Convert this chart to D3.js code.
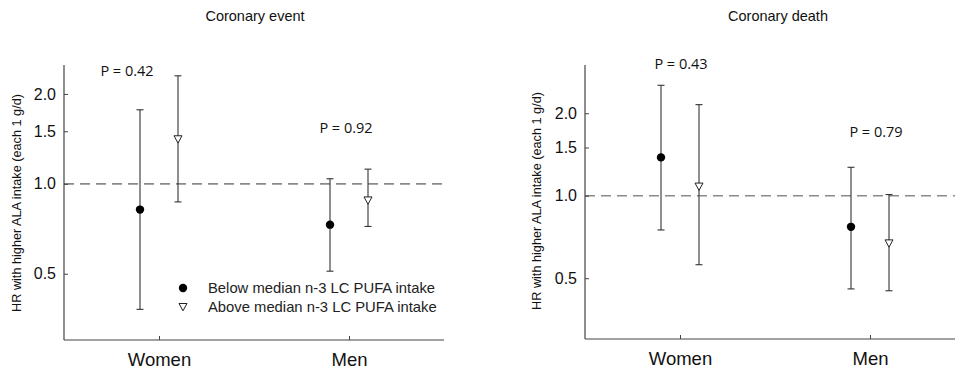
<!DOCTYPE html>
<html><head><meta charset="utf-8">
<script src="https://cdn.jsdelivr.net/npm/d3@7"></script>
<style>body{margin:0;background:#fff}svg{display:block}</style>
</head><body><svg id="c" width="955" height="374"></svg>
<script>
const categories = ["Women", "Men"];
const seriesNames = ["Below median n-3 LC PUFA intake", "Above median n-3 LC PUFA intake"];
const yTicks = [0.5, 1.0, 1.5, 2.0];

// Coronary event: [HR, lower, upper] for below / above series
const eventBelow = [[0.82, 0.38, 1.77], [0.73, 0.51, 1.04]];
const eventAbove = [[1.41, 0.87, 2.30], [0.88, 0.72, 1.12]];
const eventP = ["P = 0.42", "P = 0.92"];

// Coronary death
const deathBelow = [[1.38, 0.75, 2.53], [0.77, 0.457, 1.27]];
const deathAbove = [[1.08, 0.56, 2.15], [0.67, 0.45, 1.01]];
const deathP = ["P = 0.43", "P = 0.79"];

const svg = d3.select("#c");
const axisColor = "#444";

function panel(o) {
  const g = svg.append("g");
  const y = d3.scaleLog().domain(o.ydom).range([o.bottom, o.top]);
  const x = d3.scalePoint().domain(categories).range([o.left, o.left + 380]).padding(0.5);
  const off = d3.scalePoint().domain([0, 1]).range([-19, 19]);

  g.append("text").attr("x", o.titleX).attr("y", 21).attr("text-anchor", "middle")
    .attr("font-family", "Liberation Sans, Arial, sans-serif").attr("font-size", 14.5).attr("fill", "#111")
    .text(o.title);

  g.append("line").attr("x1", o.left).attr("x2", o.right).attr("y1", y(1)).attr("y2", y(1))
    .attr("stroke", "#8a8a8a").attr("stroke-width", 1.6).attr("stroke-dasharray", "10,6");

  const ya = g.append("g").attr("transform", `translate(${o.left},0)`)
    .call(d3.axisLeft(y).tickValues(yTicks).tickFormat(d3.format(".1f")).tickSize(-4).tickSizeOuter(0).tickPadding(8));
  ya.select(".domain").remove();
  ya.selectAll(".tick line").attr("stroke", axisColor);
  ya.selectAll(".tick text").attr("font-family", "Liberation Sans, Arial, sans-serif").attr("font-size", 16).attr("fill", "#111");
  g.append("line").attr("x1", o.left).attr("x2", o.left).attr("y1", o.top).attr("y2", o.bottom)
    .attr("stroke", axisColor).attr("stroke-width", 1.2);

  const xa = g.append("g").attr("transform", `translate(0,${o.bottom})`)
    .call(d3.axisBottom(x).tickSize(-4).tickSizeOuter(0).tickPadding(13));
  xa.select(".domain").remove();
  xa.selectAll(".tick line").attr("stroke", axisColor);
  xa.selectAll(".tick text").attr("font-family", "Liberation Sans, Arial, sans-serif").attr("font-size", 18.5).attr("fill", "#111");
  g.append("line").attr("x1", o.left).attr("x2", o.right).attr("y1", o.bottom).attr("y2", o.bottom)
    .attr("stroke", axisColor).attr("stroke-width", 1.2);

  g.append("text").attr("transform", `translate(${o.ylabX},${o.ylabY}) rotate(-90)`)
    .attr("text-anchor", "middle").attr("dominant-baseline", "central")
    .attr("font-family", "Liberation Sans, Arial, sans-serif").attr("font-size", 12.7).attr("fill", "#111")
    .text("HR with higher ALA intake (each 1 g/d)");

  [o.below, o.above].forEach((series, si) => {
    const sg = g.append("g");
    series.forEach((d, ci) => {
      const cx = x(categories[ci]) + off(si);
      sg.append("line").attr("x1", cx).attr("x2", cx).attr("y1", y(d[1])).attr("y2", y(d[2]))
        .attr("stroke", "#333").attr("stroke-width", 1.1);
      [d[1], d[2]].forEach(v => sg.append("line").attr("x1", cx - 3.5).attr("x2", cx + 3.5)
        .attr("y1", y(v)).attr("y2", y(v)).attr("stroke", "#333").attr("stroke-width", 1.1));
      if (si === 0) {
        sg.append("circle").attr("cx", cx).attr("cy", y(d[0])).attr("r", 4.2).attr("fill", "#000");
      } else {
        sg.append("path").attr("transform", `translate(${cx},${y(d[0])})`)
          .attr("d", "M-4,-3.5L4,-3.5L0,3.8Z").attr("fill", "#fff").attr("stroke", "#222").attr("stroke-width", 1);
      }
    });
  });

  o.p.forEach((t, i) => {
    g.append("text").attr("x", o.pPos[i][0]).attr("y", o.pPos[i][1]).attr("text-anchor", "middle")
      .attr("dominant-baseline", "central")
      .attr("font-family", "Open Sans, Liberation Sans, sans-serif").attr("font-size", 14.5).attr("fill", "#111")
      .text(t);
  });
}

panel({left: 64, right: 444, top: 65, bottom: 340, ydom: [0.3, 2.5], title: "Coronary event", titleX: 255,
  ylabX: 17, ylabY: 203, below: eventBelow, above: eventAbove, p: eventP, pPos: [[127, 70], [346, 127]]});
panel({left: 585, right: 955, top: 65, bottom: 339, ydom: [0.3, 3.0], title: "Coronary death", titleX: 778,
  ylabX: 537, ylabY: 201, below: deathBelow, above: deathAbove, p: deathP, pPos: [[681, 63], [876, 131]]});

const leg = svg.append("g");
seriesNames.forEach((name, i) => {
  const ly = 288 + i * 19;
  if (i === 0) leg.append("circle").attr("cx", 183).attr("cy", ly).attr("r", 4.2).attr("fill", "#000");
  else leg.append("path").attr("transform", `translate(183,${ly})`).attr("d", "M-4,-3.5L4,-3.5L0,3.8Z")
    .attr("fill", "#fff").attr("stroke", "#222").attr("stroke-width", 1);
  leg.append("text").attr("x", 208).attr("y", ly).attr("dominant-baseline", "central")
    .attr("font-family", "Liberation Sans, Arial, sans-serif").attr("font-size", 14.8).attr("fill", "#222")
    .text(name);
});
</script></body></html>
